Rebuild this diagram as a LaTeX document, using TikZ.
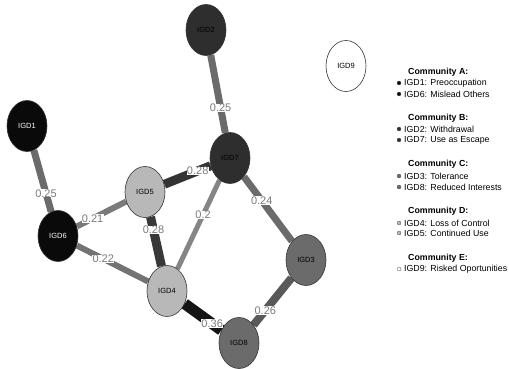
\documentclass[tikz,border=0pt]{standalone}
\usepackage{fontspec}
\setmainfont{Liberation Sans}
\usetikzlibrary{shapes.geometric,backgrounds}

\definecolor{comA}{HTML}{0A0A0A}
\definecolor{comB}{HTML}{2E2E2E}
\definecolor{comC}{HTML}{6B6B6B}
\definecolor{comD}{HTML}{B8B8B8}
\definecolor{comE}{HTML}{FFFFFF}

\tikzset{
  igd/.style={ellipse, draw=black!80, line width=0.6pt, inner sep=0pt,
    minimum width=40pt, minimum height=51pt, font=\fontsize{7.5}{8}\selectfont},
  wt/.style={font=\fontsize{11}{12}\selectfont, text=black!52, fill=white, inner sep=0.3pt},
  tie/.style={line width=#1},
  dot/.style={circle, fill=#1, draw=black!70, line width=0.3pt, inner sep=0pt, minimum size=4pt},
  head/.style={anchor=west, inner sep=0pt, font=\fontsize{8.8}{9}\selectfont\bfseries},
  item/.style={anchor=west, inner sep=0pt, font=\fontsize{8.8}{9}\selectfont}
}

\begin{document}
\begin{tikzpicture}[x=1pt,y=-1pt]
\useasboundingbox (0,0) rectangle (509,369);

% nodes
\node[igd, fill=comA, text=white] (g1) at (27,126) {IGD1};
\node[igd, fill=comB] (g2) at (206,30) {IGD2};
\node[igd, fill=comC] (g3) at (306,260) {IGD3};
\node[igd, fill=comD] (g4) at (167,291) {IGD4};
\node[igd, fill=comD] (g5) at (145,192) {IGD5};
\node[igd, fill=comA, text=white] (g6) at (58,236) {IGD6};
\node[igd, fill=comB] (g7) at (230,158) {IGD7};
\node[igd, fill=comC] (g8) at (239,343) {IGD8};
\node[igd, fill=comE] (g9) at (346,66) {IGD9};

% edges
\begin{scope}[on background layer]
\draw[tie=7pt, draw=black!58] (g2) -- (g7);
\draw[tie=7pt, draw=black!58] (g1) -- (g6);
\draw[tie=6pt, draw=black!52] (g6) -- (g5);
\draw[tie=6pt, draw=black!55] (g6) -- (g4);
\draw[tie=9pt, draw=black!80] (g5) -- (g7);
\draw[tie=9pt, draw=black!78] (g5) -- (g4);
\draw[tie=5pt, draw=black!48] (g7) -- (g4);
\draw[tie=7pt, draw=black!58] (g7) -- (g3);
\draw[tie=8pt, draw=black!65] (g3) -- (g8);
\draw[tie=11pt, draw=black!92] (g4) -- (g8);
\end{scope}

% weights
\path (g2) -- node[wt, pos=0.68] {0.25} (g7);
\path (g1) -- node[wt, pos=0.7] {0.25} (g6);
\path (g6) -- node[wt, pos=0.32] {0.21} (g5);
\path (g6) -- node[wt, pos=0.37] {0.22} (g4);
\path (g5) -- node[wt, pos=0.72] {0.28} (g7);
\path (g5) -- node[wt, pos=0.27] {0.28} (g4);
\path (g7) -- node[wt, pos=0.39] {0.2} (g4);
\path (g7) -- node[wt, pos=0.37] {0.24} (g3);
\path (g3) -- node[wt, pos=0.69] {0.26} (g8);
\path (g4) -- node[wt, pos=0.75] {0.36} (g8);

% legend
\node[head] (ca) at (408,72) {Community A:};
\node[dot=comA] (d1) at (399,83) {};
\node[item] (l1) at (404,83) {IGD1: Preoccupation};
\node[dot=comA] (d6) at (399,94) {};
\node[item] (l6) at (404,94) {IGD6: Mislead Others};

\node[head] (cb) at (408,118) {Community B:};
\node[dot=comB] (d2) at (399,129) {};
\node[item] (l2) at (404,129) {IGD2: Withdrawal};
\node[dot=comB] (d7) at (399,140) {};
\node[item] (l7) at (404,140) {IGD7: Use as Escape};

\node[head] (cc) at (408,164) {Community C:};
\node[dot=comC] (d3) at (399,176) {};
\node[item] (l3) at (404,176) {IGD3: Tolerance};
\node[dot=comC] (d8) at (399,187) {};
\node[item] (l8) at (404,187) {IGD8: Reduced Interests};

\node[head] (cd) at (408,211) {Community D:};
\node[dot=comD] (d4) at (399,223) {};
\node[item] (l4) at (404,223) {IGD4: Loss of Control};
\node[dot=comD] (d5) at (399,233) {};
\node[item] (l5) at (404,233) {IGD5: Continued Use};

\node[head] (ce) at (408,258) {Community E:};
\node[dot=comE] (d9) at (399,269) {};
\node[item] (l9) at (404,269) {IGD9: Risked Oportunities};
\end{tikzpicture}
\end{document}
